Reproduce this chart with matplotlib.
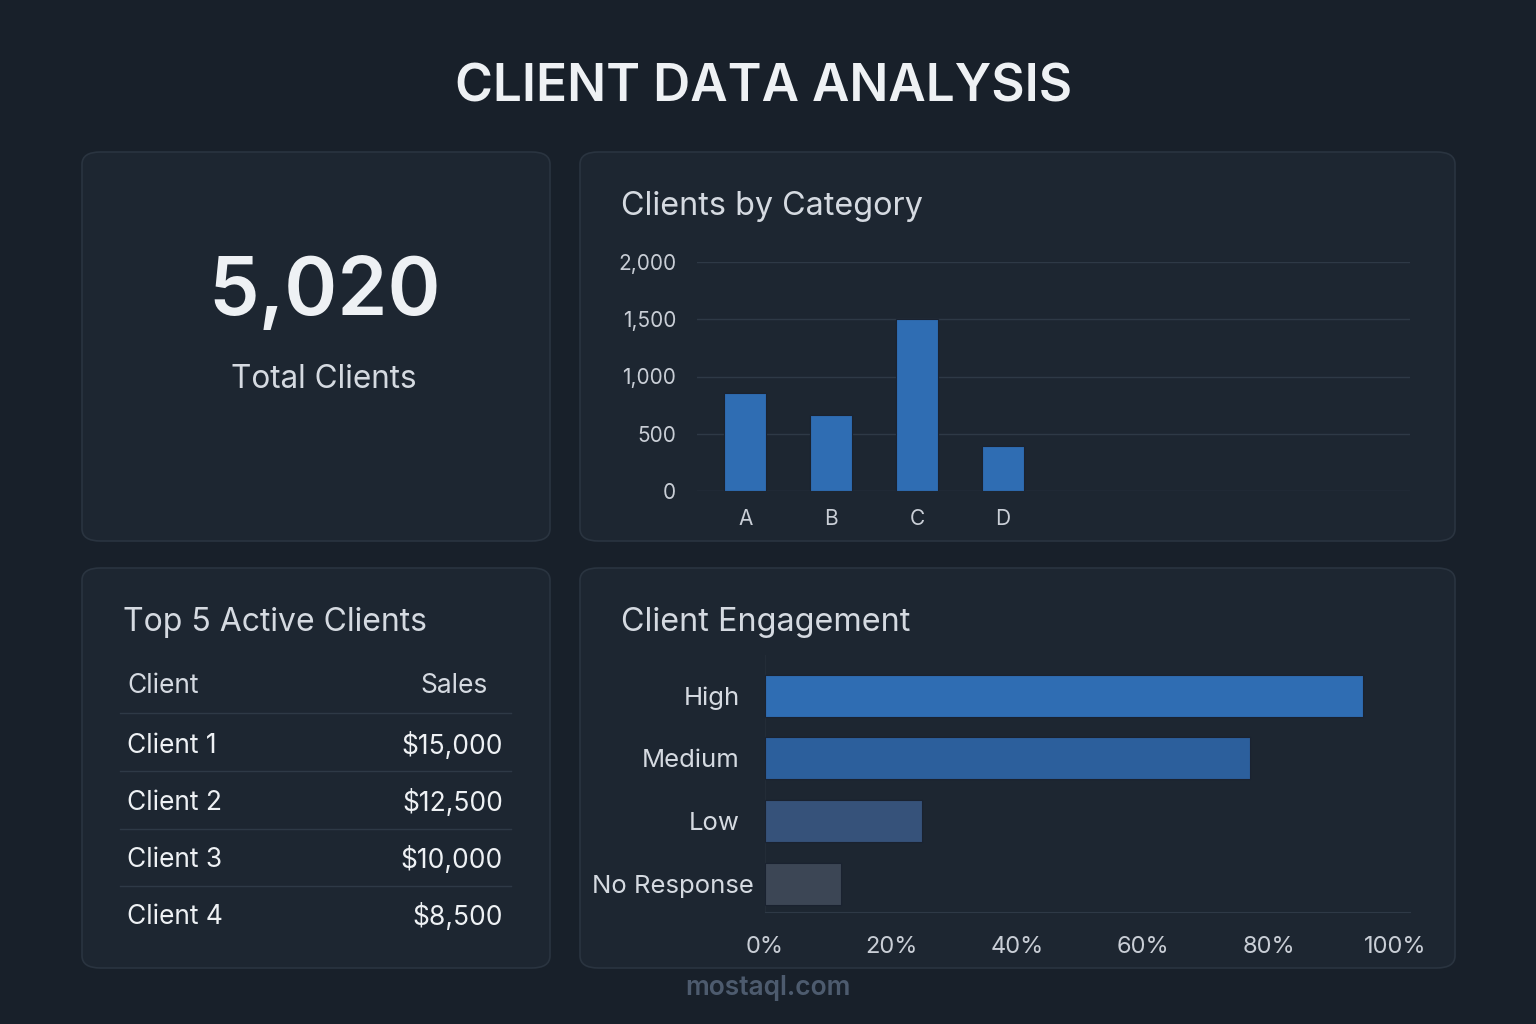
import matplotlib.pyplot as plt
from matplotlib.patches import FancyBboxPatch
from matplotlib.transforms import ScaledTranslation

plt.rcParams["font.family"] = ["Inter", "DejaVu Sans"]

W, H = 1536, 1024
BG = "#18202a"
PANEL = "#1d2631"
EDGE = "#2a3440"
TXT = "#eef1f4"
SUB = "#d5dae1"
GRID = "#2e3946"

# data
total_clients = "5,020"
categories = ["A", "B", "C", "D"]
cat_counts = [860, 660, 1500, 390]
cat_ticks = [0, 500, 1000, 1500, 2000]

clients = ["Client 1", "Client 2", "Client 3", "Client 4"]
sales = ["$15,000", "$12,500", "$10,000", "$8,500"]

levels = ["High", "Medium", "Low", "No Response"]
engagement = [95, 77, 25, 12]
level_colors = ["#2f6db3", "#2c5f9c", "#36527a", "#3c4655"]
pct_ticks = [0, 20, 40, 60, 80, 100]


def fx(px):
    return px / W


def fy(py):
    return 1 - py / H


fig = plt.figure(figsize=(W / 100, H / 100), dpi=100, facecolor=BG)

# panels
for x0, y0, x1, y1 in [(82, 152, 550, 541), (580, 152, 1455, 541),
                       (82, 568, 550, 968), (580, 568, 1455, 968)]:
    p = FancyBboxPatch((fx(x0), fy(y1)), fx(x1 - x0), (y1 - y0) / H,
                       boxstyle="round,pad=0,rounding_size=0.012",
                       transform=fig.transFigure, facecolor=PANEL,
                       edgecolor=EDGE, linewidth=1.2, zorder=-5)
    fig.patches.append(p)

fig.text(fx(764), fy(88), "CLIENT DATA ANALYSIS", ha="center", va="center",
         fontsize=37, fontweight="semibold", color=TXT)

# KPI
fig.text(fx(325), fy(294), total_clients, ha="center", va="center",
         fontsize=58, fontweight="semibold", color=TXT)
fig.text(fx(324), fy(380), "Total Clients", ha="center", va="center",
         fontsize=22.7, color=SUB)

# bar chart
fig.text(fx(621), fy(207), "Clients by Category", ha="left", va="center",
         fontsize=23.3, color=SUB)
ax1 = fig.add_axes([fx(697), fy(491), fx(1410 - 697), (491 - 262) / H])
ax1.set_facecolor("none")
ax1.bar(range(len(categories)), cat_counts, width=0.49, color="#2f6db3",
        edgecolor="#1a2230", linewidth=0.8, zorder=3)
ax1.set_xlim(-0.56, 7.73)
ax1.set_ylim(0, 2000)
ax1.set_yticks(cat_ticks)
ax1.set_yticklabels([f"{v:,}" for v in cat_ticks])
ax1.set_xticks(range(len(categories)))
ax1.set_xticklabels(categories)
ax1.grid(axis="y", color=GRID, linewidth=1, zorder=0)
ax1.tick_params(length=0, colors="#c9ced6", labelsize=15)
ax1.tick_params(axis="y", pad=15)
ax1.tick_params(axis="x", pad=13)
for s in ax1.spines.values():
    s.set_visible(False)

# table
fig.text(fx(123), fy(622), "Top 5 Active Clients", ha="left", va="center",
         fontsize=23, color=SUB)
fig.text(fx(127), fy(686), "Client", ha="left", va="center", fontsize=19, color=SUB)
fig.text(fx(488), fy(686), "Sales", ha="right", va="center", fontsize=19, color=SUB)
row_y = [746, 803, 860, 917]
for i, (c, s) in enumerate(zip(clients, sales)):
    fig.text(fx(127), fy(row_y[i]), c, ha="left", va="center", fontsize=19, color=TXT)
    fig.text(fx(503), fy(row_y[i]), s, ha="right", va="center", fontsize=19, color=TXT)
for ly in [713, 771, 829, 886]:
    fig.add_artist(plt.Line2D([fx(120), fx(511)], [fy(ly), fy(ly)],
                              transform=fig.transFigure, color=GRID, linewidth=1))

# engagement
fig.text(fx(621), fy(622), "Client Engagement", ha="left", va="center",
         fontsize=23.3, color=SUB)
ax2 = fig.add_axes([fx(765), fy(912), fx(1410 - 765), (912 - 655) / H])
ax2.set_facecolor("none")
ax2.barh(range(len(levels)), engagement, height=0.67, color=level_colors,
         edgecolor="#1a2230", linewidth=0.8, zorder=3)
ax2.set_xlim(0, 102.4)
ax2.set_ylim(3.45, -0.65)
ax2.set_yticks(range(len(levels)))
ax2.set_yticklabels(levels)
ax2.set_xticks(pct_ticks)
ax2.set_xticklabels([f"{v}%" for v in pct_ticks])
ax2.tick_params(length=0, colors=SUB, labelsize=17)
ax2.tick_params(axis="y", pad=18, labelsize=18.5)
ax2.tick_params(axis="x", pad=17, colors="#c9ced6")
lab = ax2.get_yticklabels()[-1]
lab.set_transform(lab.get_transform() + ScaledTranslation(0.14, 0, fig.dpi_scale_trans))
for k in ["top", "right"]:
    ax2.spines[k].set_visible(False)
ax2.spines["left"].set_color("#232c37")
ax2.spines["bottom"].set_color(GRID)

# watermark
fig.text(fx(768), fy(988), "mostaql.com", ha="center", va="center",
         fontsize=19, fontweight="semibold", color="#4d5b6e")

fig.savefig("out.png", dpi=100, facecolor=BG)
